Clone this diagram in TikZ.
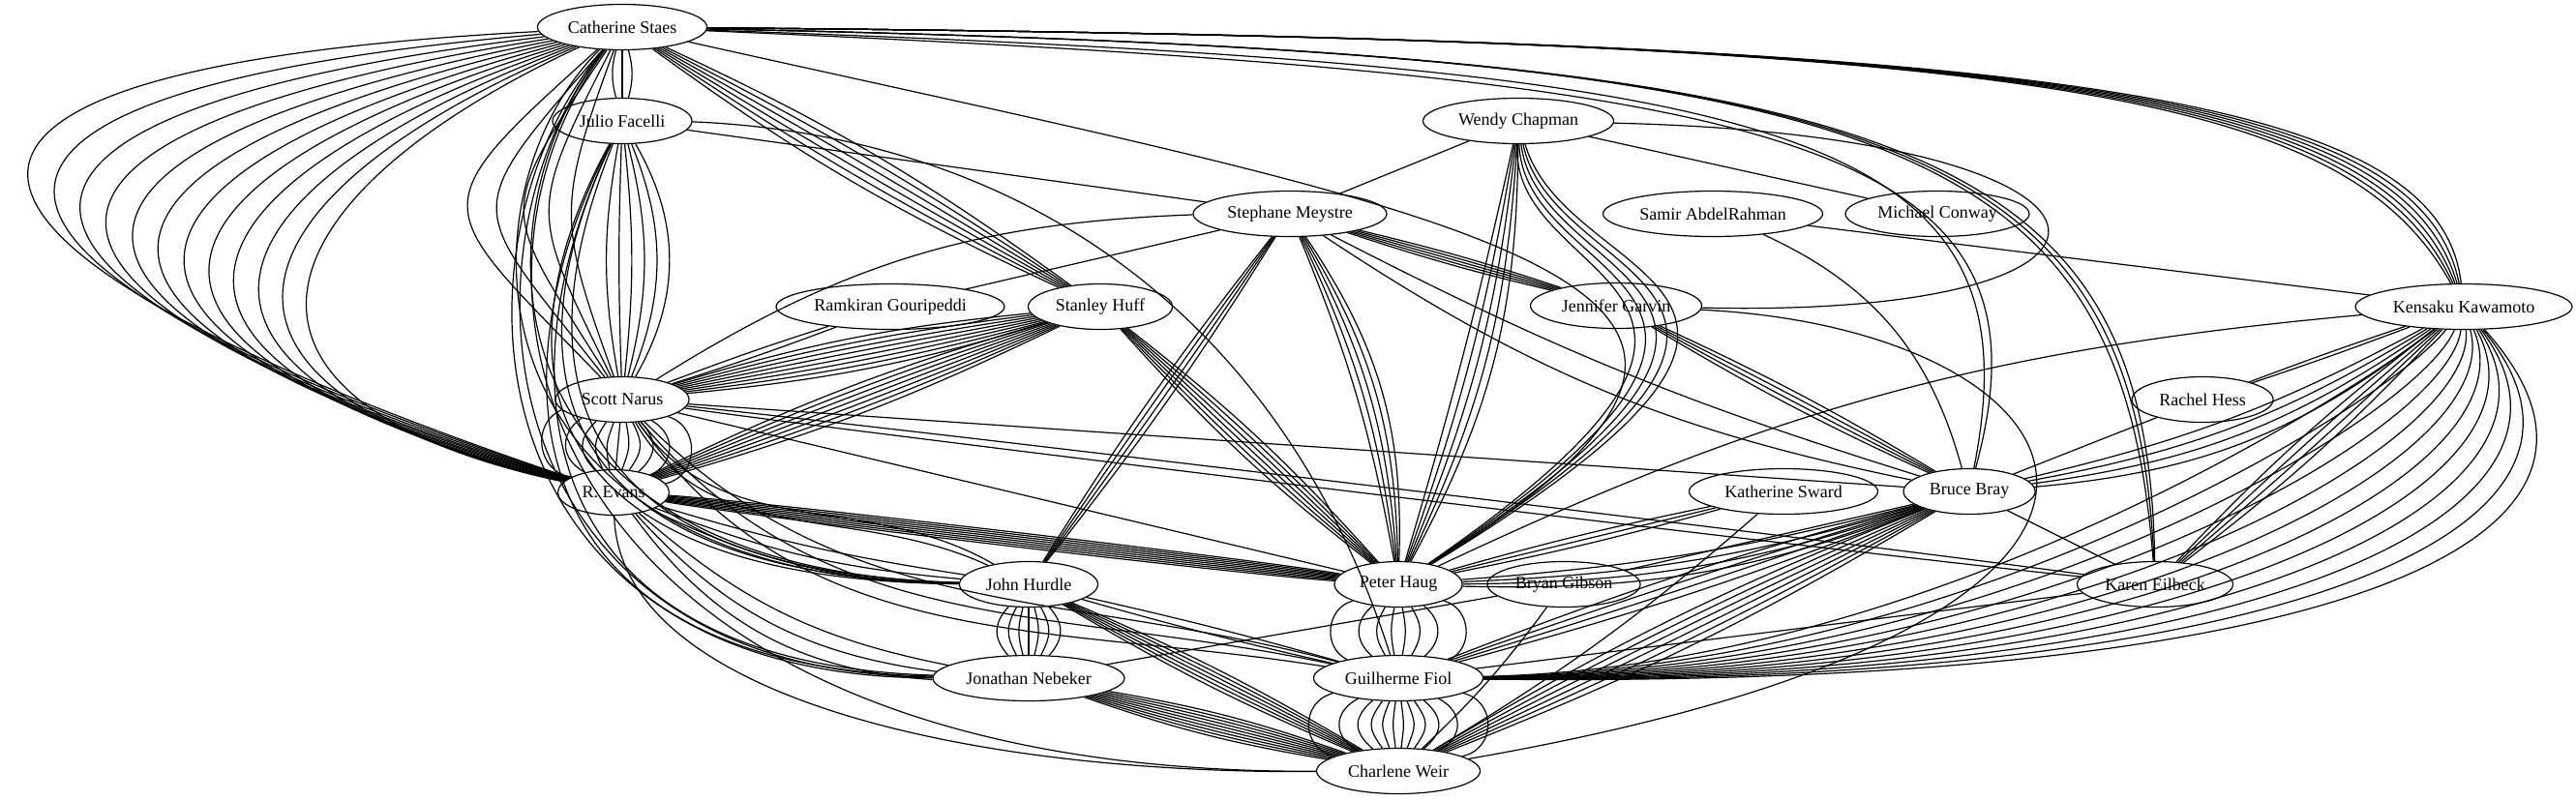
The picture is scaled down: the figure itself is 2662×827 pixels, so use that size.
\documentclass[tikz,border=0pt]{standalone}
\usepackage{fontspec}
\setmainfont{Liberation Serif}
\usetikzlibrary{shapes.geometric}
\newcommand\bund[5]{\foreach \k in {1,...,#3}{\pgfmathsetmacro\myb{#4+(\k-(#3+1)/2)*#5}\draw[edge] (#1) to[bend left=\myb] (#2);}}
\newcommand\bundL[6]{\foreach \k in {1,...,#3}{\pgfmathsetmacro\myb{#4+(\k-(#3+1)/2)*#5}\draw[edge] (#1) to[bend left=\myb,looseness=#6] (#2);}}
\newcommand\fan[9]{\foreach \k in {1,...,#3}{\pgfmathsetmacro\myo{#4+(\k-1)*#5}\pgfmathsetmacro\myi{#6+(\k-1)*#7}\pgfmathsetmacro\myl{#8+(\k-1)*#9}\draw[edge] (#1) to[out=\myo,in=\myi,looseness=\myl] (#2);}}
\begin{document}
\begin{tikzpicture}[x=0.25pt,y=0.25pt,
  nd/.style={draw, ellipse, line width=0.3pt, inner sep=0pt, minimum height=11.75pt, font=\fontsize{4.5}{5}\selectfont},
  edge/.style={line width=0.3pt}]
\useasboundingbox (0,0) rectangle (2662,-827);
% nodes
\node[nd,minimum width=43.75pt] (CS) at (643,-28) {Catherine Staes};
\node[nd,minimum width=36pt] (JF) at (643,-125) {Julio Facelli};
\node[nd,minimum width=34.5pt] (SN) at (643,-413) {Scott Narus};
\node[nd,minimum width=28.75pt] (RE) at (634,-509) {R. Evans};
\node[nd,minimum width=59pt] (RG) at (920,-317) {Ramkiran Gouripeddi};
\node[nd,minimum width=37.25pt] (SH) at (1137,-317) {Stanley Huff};
\node[nd,minimum width=50pt] (SM) at (1333,-221) {Stephane Meystre};
\node[nd,minimum width=49.25pt] (WC) at (1569,-125) {Wendy Chapman};
\node[nd,minimum width=56.75pt] (SA) at (1770,-221) {Samir AbdelRahman};
\node[nd,minimum width=47.5pt] (MC) at (2002,-221) {Michael Conway};
\node[nd,minimum width=44.25pt] (JG) at (1670,-316) {Jennifer Garvin};
\node[nd,minimum width=56pt] (KK) at (2546,-317) {Kensaku Kawamoto};
\node[nd,minimum width=36.5pt] (RH) at (2276,-413) {Rachel Hess};
\node[nd,minimum width=34pt] (BB) at (2035,-508) {Bruce Bray};
\node[nd,minimum width=48.75pt] (KS) at (1843,-508) {Katherine Sward};
\node[nd,minimum width=40.25pt] (KE) at (2227,-604) {Karen Eilbeck};
\node[nd,minimum width=35.75pt] (JH) at (1063,-604) {John Hurdle};
\node[nd,minimum width=33pt] (PH) at (1445,-604) {Peter Haug};
\node[nd,minimum width=39.5pt] (BG) at (1616,-604) {Bryan Gibson};
\node[nd,minimum width=49.5pt] (JN) at (1063,-701) {Jonathan Nebeker};
\node[nd,minimum width=43.75pt] (GF) at (1445,-701) {Guilherme Fiol};
\node[nd,minimum width=42.25pt] (CW) at (1445,-797) {Charlene Weir};
% left cluster
\fan{CS}{RE}{12}{205}{-2}{168}{-0.6}{2.2}{0.175}
\fan{CS}{SN}{5}{250}{-7}{110}{6}{1.3}{0.15}
\bund{CS}{JF}{3}{0}{15}
\bund{CS}{SH}{6}{0}{2.2}
\bund{JF}{SN}{6}{10}{8}
\draw[edge] (CS) .. controls (470,-200) and (470,-600) .. (JH);
\draw[edge] (CS) .. controls (490,-220) and (490,-590) .. (JH);
\draw[edge] (JF) .. controls (530,-330) and (500,-600) .. (JH);
\draw[edge] (JF) .. controls (545,-330) and (515,-595) .. (JH);
\draw[edge] (JF) .. controls (560,-330) and (530,-590) .. (JH);
\draw[edge] (CS) .. controls (455,-250) and (480,-700) .. (JN);
\draw[edge] (CS) .. controls (465,-250) and (495,-695) .. (JN);
\draw[edge] (JF) .. controls (510,-380) and (520,-690) .. (JN);
\draw[edge] (JF) .. controls (520,-380) and (535,-685) .. (JN);
\draw[edge] (CS) .. controls (440,-300) and (560,-800) .. (CW);
\draw[edge] (RE) .. controls (640,-720) and (1000,-800) .. (CW);
\bund{RE}{JN}{3}{-20}{5}
\bund{RE}{JH}{3}{-8}{4}
\bundL{SN}{RE}{11}{0}{15}{1.3}
\bund{SH}{SN}{8}{0}{1.6}
\bund{SH}{RE}{7}{0}{1.6}
\bund{RG}{SN}{2}{0}{3}
\draw[edge] (SM) to[bend right=15] (SN);
\draw[edge] (SM) -- (RG);
\draw[edge] (JF) -- (SM);
\draw[edge] (JF) to[bend left=35] (GF);
\draw[edge] (SN) -- (BB);
\bundL{SN}{KE}{2}{0}{2}{0.4}
\draw[edge] (SN) -- (PH);
\fan{SN}{GF}{3}{-45}{-5}{165}{3}{1}{0}
\fan{SN}{JH}{2}{-55}{-5}{150}{5}{1}{0}
\bundL{RE}{PH}{8}{0}{1}{0.3}
% middle
\bund{SM}{JH}{4}{0}{2}
\bund{SM}{PH}{5}{12}{3}
\bund{SH}{PH}{6}{0}{2}
\bund{SM}{JG}{5}{0}{1.2}
\bund{SM}{BB}{2}{-8}{6}
\draw[edge] (WC) -- (SM);
\draw[edge] (WC) -- (MC);
\draw[edge] (WC) .. controls (2240,-140) and (2260,-330) .. (JG);
\bund{WC}{PH}{5}{8}{3}
\foreach \k in {0,...,4}{\draw[edge] (WC) .. controls (1560+15*\k,-300) and (1900+15*\k,-290) .. (PH);}
\draw[edge] (CS) .. controls (1550,-230) and (1950,-290) .. (PH);
\draw[edge] (SA) -- (KK);
\draw[edge] (SA) to[bend left=25] (BB);
\bund{JG}{BB}{4}{0}{2}
\draw[edge] (JG) .. controls (2170,-340) and (2350,-640) .. (CW);
\draw[edge] (CS) .. controls (1850,-70) and (2110,-130) .. (BB);
\draw[edge] (CS) .. controls (1850,-80) and (2135,-140) .. (BB);
\foreach \k in {0,...,2}{\draw[edge] (CS) .. controls (1950,-55) and (2190+15*\k,-130) .. (KE);}
\foreach \k in {0,...,5}{\draw[edge] (CS) .. controls (2100,-40) and (2420+20*\k,-90) .. (KK);}
% right
\bund{KK}{RH}{2}{0}{2}
\bund{KK}{BB}{4}{12}{3}
\bund{KK}{KE}{4}{0}{3}
\foreach \k in {0,...,11}{\draw[edge] (KK) .. controls (2440+30*\k,-400-15*\k) and (2000+36*\k,-690-2*\k) .. (GF);}
\draw[edge] (KE) -- (GF);
\draw[edge] (KE) -- (BB);
\draw[edge] (RH) -- (BB);
\draw[edge] (KK) to[bend right=10] (PH);
\bund{KS}{PH}{3}{0}{2}
\draw[edge] (KS) to[bend left=5] (CW);
\draw[edge] (BG) -- (BB);
\draw[edge] (BG) -- (JN);
\draw[edge] (BG) to[bend left=5] (CW);
\bund{BB}{PH}{4}{8}{2}
\bund{BB}{GF}{4}{0}{2}
\bund{BB}{CW}{6}{0}{1.8}
% bottom
\bundL{PH}{GF}{8}{0}{20}{1.2}
\bundL{GF}{CW}{12}{0}{14}{1.4}
\bundL{JH}{JN}{7}{0}{14}{1.2}
\bund{JN}{CW}{9}{0}{1.2}
\bund{JH}{CW}{6}{0}{1.5}
\bund{JH}{GF}{2}{0}{3}
\end{tikzpicture}
\end{document}
